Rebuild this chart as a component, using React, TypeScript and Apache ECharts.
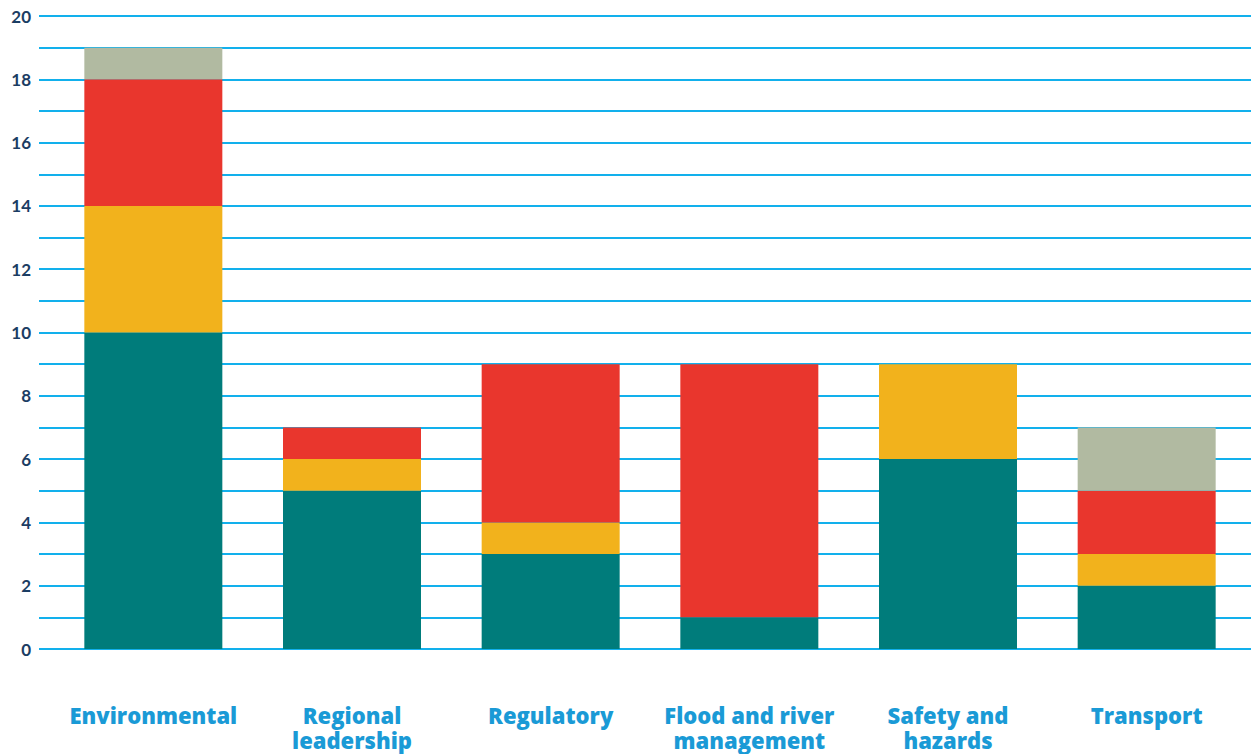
import React, { useEffect, useRef } from "react";
import * as echarts from "echarts";

const categories = [
  "Environmental",
  "Regional\nleadership",
  "Regulatory",
  "Flood and river\nmanagement",
  "Safety and\nhazards",
  "Transport",
];
const tealValues = [10, 5, 3, 1, 6, 2];
const yellowValues = [4, 1, 1, 0, 3, 1];
const redValues = [4, 1, 5, 8, 0, 2];
const greyValues = [1, 0, 0, 0, 0, 2];

const seriesDefs = [
  { name: "teal", data: tealValues, color: "#007C7B" },
  { name: "yellow", data: yellowValues, color: "#F2B21C" },
  { name: "red", data: redValues, color: "#E9362D" },
  { name: "grey", data: greyValues, color: "#B1BAA1" },
];

export default function App() {
  const ref = useRef<HTMLDivElement>(null);
  useEffect(() => {
    if (!ref.current) return;
    const chart = echarts.init(ref.current, undefined, { renderer: "svg" });
    chart.setOption({
      animation: false,
      grid: [
        { left: 39, right: 0, top: 16, bottom: 105 },
        { left: 54, width: 1192, top: 16, bottom: 105 },
      ],
      xAxis: [
        { gridIndex: 0, type: "value", min: 0, max: 1, show: false },
        {
          gridIndex: 1,
          type: "category",
          data: categories,
          axisLine: { show: false },
          axisTick: { show: false },
          axisLabel: {
            margin: 53,
            fontFamily: "'Open Sans', Lato, sans-serif",
            fontWeight: 800,
            fontSize: 22,
            lineHeight: 25,
            color: "#1A9AD6",
            interval: 0,
          },
        },
      ],
      yAxis: [
        {
          gridIndex: 0,
          type: "value",
          min: 0,
          max: 20,
          interval: 1,
          axisLine: { show: false },
          axisTick: { show: false },
          splitLine: { lineStyle: { color: "#12B0EC", width: 2 } },
          axisLabel: {
            margin: 8,
            fontFamily: "Lato, sans-serif",
            fontWeight: 700,
            fontSize: 17,
            color: "#1B3D63",
            formatter: (v: number) => (v % 2 === 0 ? String(v) : ""),
          },
        },
        { gridIndex: 1, type: "value", min: 0, max: 20, show: false },
      ],
      series: [
        { type: "line", xAxisIndex: 0, yAxisIndex: 0, data: [], silent: true },
        ...seriesDefs.map((s) => ({
          name: s.name,
          type: "bar",
          stack: "total",
          xAxisIndex: 1,
          yAxisIndex: 1,
          barWidth: 138,
          data: s.data,
          itemStyle: { color: s.color },
        })),
      ],
    });
    return () => chart.dispose();
  }, []);
  return (
    <div
      ref={ref}
      style={{ position: "absolute", left: 0, top: 0, width: 1251, height: 754 }}
    />
  );
}
